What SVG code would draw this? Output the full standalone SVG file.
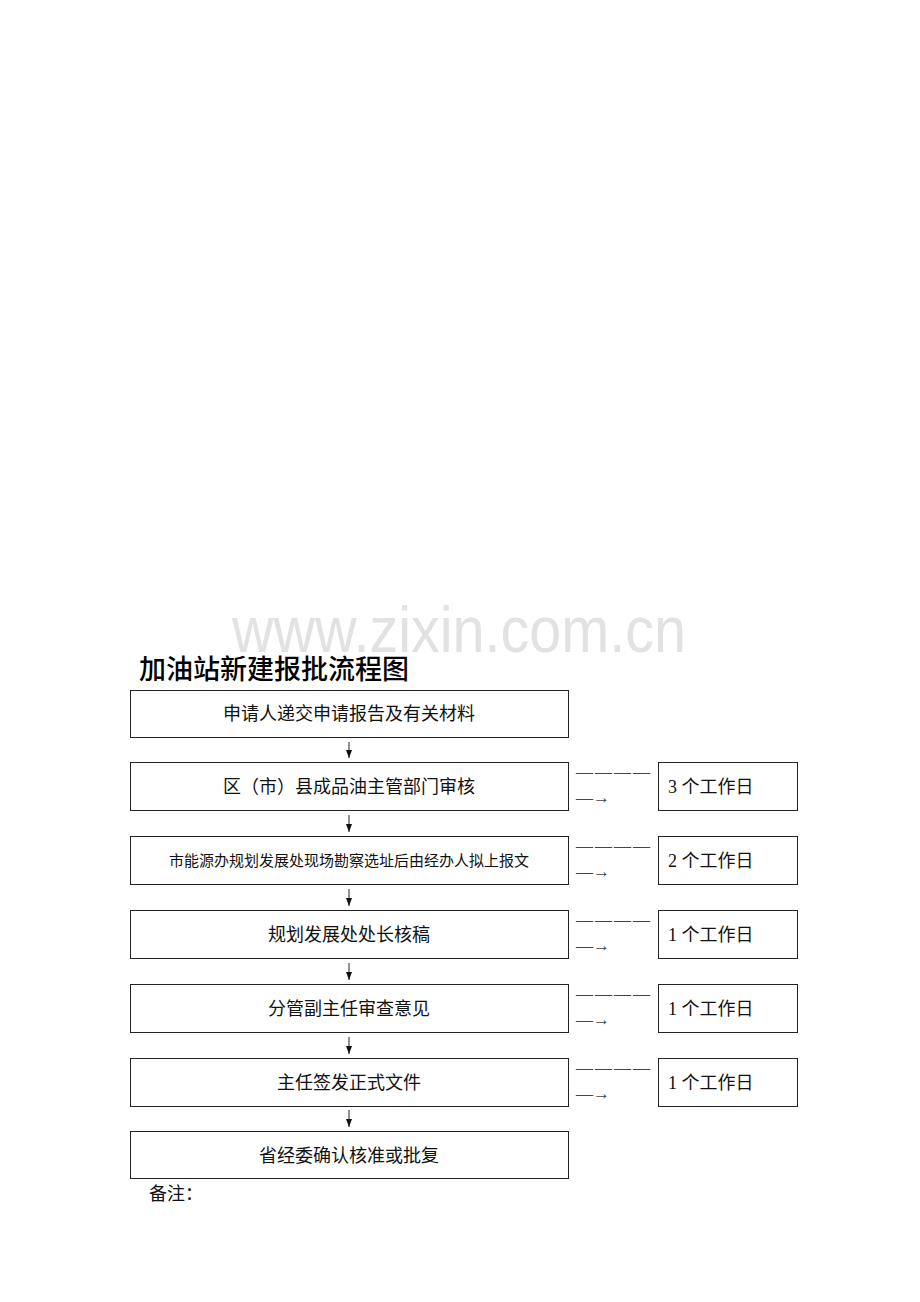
<svg xmlns="http://www.w3.org/2000/svg" width="920" height="1302" viewBox="0 0 920 1302">
<style>
.box{fill:#fff;stroke:#222;stroke-width:1}
.t{font-family:"Liberation Serif","Noto Sans CJK SC",serif;font-size:18px;fill:#111}
.d{font-family:"Liberation Serif","Noto Sans CJK SC",serif;font-size:17px;letter-spacing:2px;fill:#444}
.a{font-family:"Liberation Serif","Noto Sans CJK SC",serif;font-size:17px;fill:#444}
.c{stroke:#222;stroke-width:1;fill:none}
</style>
<defs>
<marker id="ah" viewBox="0 0 8 6" refX="8" refY="3" markerWidth="8" markerHeight="6" markerUnits="userSpaceOnUse" orient="auto">
<path d="M0,0 L8,3 L0,6 Z" fill="#111"/>
</marker>
</defs>
<rect width="920" height="1302" fill="#fff"/>
<text x="232" y="652" textLength="454" lengthAdjust="spacingAndGlyphs" font-family="Liberation Sans, Arial, sans-serif" font-size="64" fill="#e2e2e2">www.zixin.com.cn</text>
<text x="139" y="679" font-family="Noto Sans CJK SC, sans-serif" font-weight="500" font-size="27" fill="#000">加油站新建报批流程图</text>

<g id="n1"><rect class="box" x="130.5" y="690.5" width="438" height="47"/><text class="t" x="349" y="720" text-anchor="middle">申请人递交申请报告及有关材料</text></g>
<g id="n2"><rect class="box" x="130.5" y="762.5" width="438" height="48"/><text class="t" x="349" y="793" text-anchor="middle">区（市）县成品油主管部门审核</text></g>
<g id="n3"><rect class="box" x="130.5" y="836.5" width="438" height="48"/><text class="t" x="349" y="866" text-anchor="middle" style="font-size:15px">市能源办规划发展处现场勘察选址后由经办人拟上报文</text></g>
<g id="n4"><rect class="box" x="130.5" y="910.5" width="438" height="48"/><text class="t" x="349" y="941" text-anchor="middle">规划发展处处长核稿</text></g>
<g id="n5"><rect class="box" x="130.5" y="984.5" width="438" height="48"/><text class="t" x="349" y="1015" text-anchor="middle">分管副主任审查意见</text></g>
<g id="n6"><rect class="box" x="130.5" y="1058.5" width="438" height="48"/><text class="t" x="349" y="1089" text-anchor="middle">主任签发正式文件</text></g>
<g id="n7"><rect class="box" x="130.5" y="1131.5" width="438" height="47"/><text class="t" x="349" y="1162" text-anchor="middle">省经委确认核准或批复</text></g>

<g id="r2"><rect class="box" x="658.5" y="762.5" width="139" height="48"/><text class="t" x="668" y="793">3 个工作日</text></g>
<g id="r3"><rect class="box" x="658.5" y="836.5" width="139" height="48"/><text class="t" x="668" y="867">2 个工作日</text></g>
<g id="r4"><rect class="box" x="658.5" y="910.5" width="139" height="48"/><text class="t" x="668" y="941">1 个工作日</text></g>
<g id="r5"><rect class="box" x="658.5" y="984.5" width="139" height="48"/><text class="t" x="668" y="1015">1 个工作日</text></g>
<g id="r6"><rect class="box" x="658.5" y="1058.5" width="139" height="48"/><text class="t" x="668" y="1089">1 个工作日</text></g>

<g id="connectors">
<line class="c" x1="349" y1="742" x2="349" y2="758" marker-end="url(#ah)"/>
<line class="c" x1="349" y1="815" x2="349" y2="832" marker-end="url(#ah)"/>
<line class="c" x1="349" y1="889" x2="349" y2="906" marker-end="url(#ah)"/>
<line class="c" x1="349" y1="963" x2="349" y2="980" marker-end="url(#ah)"/>
<line class="c" x1="349" y1="1037" x2="349" y2="1054" marker-end="url(#ah)"/>
<line class="c" x1="349" y1="1110" x2="349" y2="1127" marker-end="url(#ah)"/>
<text x="576" y="777" class="d">————</text><text x="576" y="803" class="a">—→</text>
<text x="576" y="851" class="d">————</text><text x="576" y="877" class="a">—→</text>
<text x="576" y="925" class="d">————</text><text x="576" y="951" class="a">—→</text>
<text x="576" y="999" class="d">————</text><text x="576" y="1025" class="a">—→</text>
<text x="576" y="1073" class="d">————</text><text x="576" y="1099" class="a">—→</text>
</g>
<text class="t" x="149" y="1200">备注：</text>
</svg>
